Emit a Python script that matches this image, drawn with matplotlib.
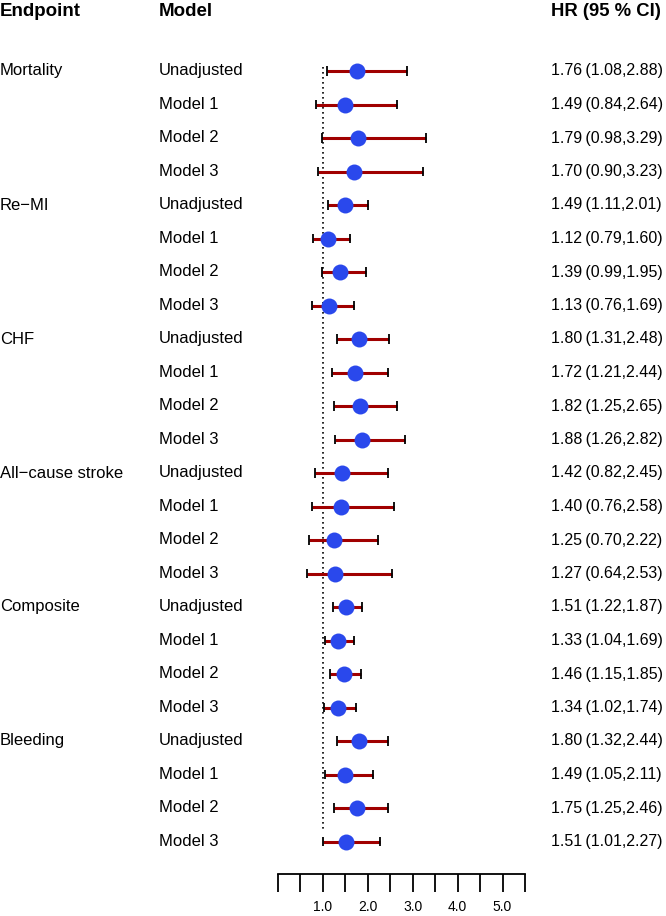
import matplotlib
matplotlib.use("Agg")
import matplotlib.pyplot as plt
import numpy as np

plt.rcParams['font.family'] = ['Liberation Sans', 'DejaVu Sans']

endpoints = ["Mortality", "Re\u2212MI", "CHF", "All\u2212cause stroke", "Composite", "Bleeding"]
models = ["Unadjusted", "Model 1", "Model 2", "Model 3"]
hr = [1.76, 1.49, 1.79, 1.70,
      1.49, 1.12, 1.39, 1.13,
      1.80, 1.72, 1.82, 1.88,
      1.42, 1.40, 1.25, 1.27,
      1.51, 1.33, 1.46, 1.34,
      1.80, 1.49, 1.75, 1.51]
lo = [1.08, 0.84, 0.98, 0.90,
      1.11, 0.79, 0.99, 0.76,
      1.31, 1.21, 1.25, 1.26,
      0.82, 0.76, 0.70, 0.64,
      1.22, 1.04, 1.15, 1.02,
      1.32, 1.05, 1.25, 1.01]
hi = [2.88, 2.64, 3.29, 3.23,
      2.01, 1.60, 1.95, 1.69,
      2.48, 2.44, 2.65, 2.82,
      2.45, 2.58, 2.22, 2.53,
      1.87, 1.69, 1.85, 1.74,
      2.44, 2.11, 2.46, 2.27]
xticks = [0.0, 0.5, 1.0, 1.5, 2.0, 2.5, 3.0, 3.5, 4.0, 4.5, 5.0, 5.5]
xticklabels = ["", "", "1.0", "", "2.0", "", "3.0", "", "4.0", "", "5.0", ""]

W, H = 666, 916
fig = plt.figure(figsize=(W / 100, H / 100), dpi=100)

ax_left, ax_right = 278, 525
ax_bottom_px = 874
ax = fig.add_axes([ax_left / W, (H - ax_bottom_px) / H, (ax_right - ax_left) / W, ax_bottom_px / H])

row0, dy = 71.0, 33.5
n = len(hr)
ypos = np.arange(n)
ax.set_xlim(0, 5.5)
ax.set_ylim((ax_bottom_px - row0) / dy, (0 - row0) / dy)

# reference line
ax.plot([1.0, 1.0], [-0.12, n - 1.3], color='black', linestyle=(0, (1, 2)), lw=1.2, zorder=1)

# CI lines
ax.hlines(ypos, lo, hi, color='#A00000', lw=2.2, zorder=2)
cap = 0.14
ax.vlines(lo, ypos - cap, ypos + cap, color='black', lw=1.3, zorder=3)
ax.vlines(hi, ypos - cap, ypos + cap, color='black', lw=1.3, zorder=3)
ax.plot(hr, ypos, 'o', color='#2A48EC', markersize=11.5, markeredgewidth=0, zorder=4)

for s in ['top', 'left', 'right']:
    ax.spines[s].set_visible(False)
ax.spines['bottom'].set_linewidth(1.3)
ax.set_yticks([])
ax.set_xticks(xticks)
ax.set_xticklabels(xticklabels, fontsize=10)
ax.tick_params(axis='x', direction='out', length=13, width=1.3, pad=6)

# text columns
def fx(px):
    return px / W

trans = matplotlib.transforms.blended_transform_factory(fig.transFigure, ax.transData)
ytitle = (12 - row0) / dy
ax.text(fx(0), ytitle, "Endpoint", transform=trans, fontsize=13.5, fontweight='bold', va='center', ha='left')
ax.text(fx(159), ytitle, "Model", transform=trans, fontsize=13.5, fontweight='bold', va='center', ha='left')
ax.text(fx(661), ytitle, "HR (95 % CI)", transform=trans, fontsize=13.3, fontweight='bold', va='center', ha='right')

for i in range(n):
    g, m = divmod(i, len(models))
    if m == 0:
        ax.text(fx(0), i, endpoints[g], transform=trans, fontsize=12, va='center', ha='left')
    ax.text(fx(159), i, models[m], transform=trans, fontsize=12, va='center', ha='left')
    ax.text(fx(551), i, f"{hr[i]:.2f}\u2009({lo[i]:.2f},{hi[i]:.2f})", transform=trans,
            fontsize=11.5, va='center', ha='left', family=['Liberation Sans', 'DejaVu Sans'])

fig.savefig("out.png", dpi=100)
